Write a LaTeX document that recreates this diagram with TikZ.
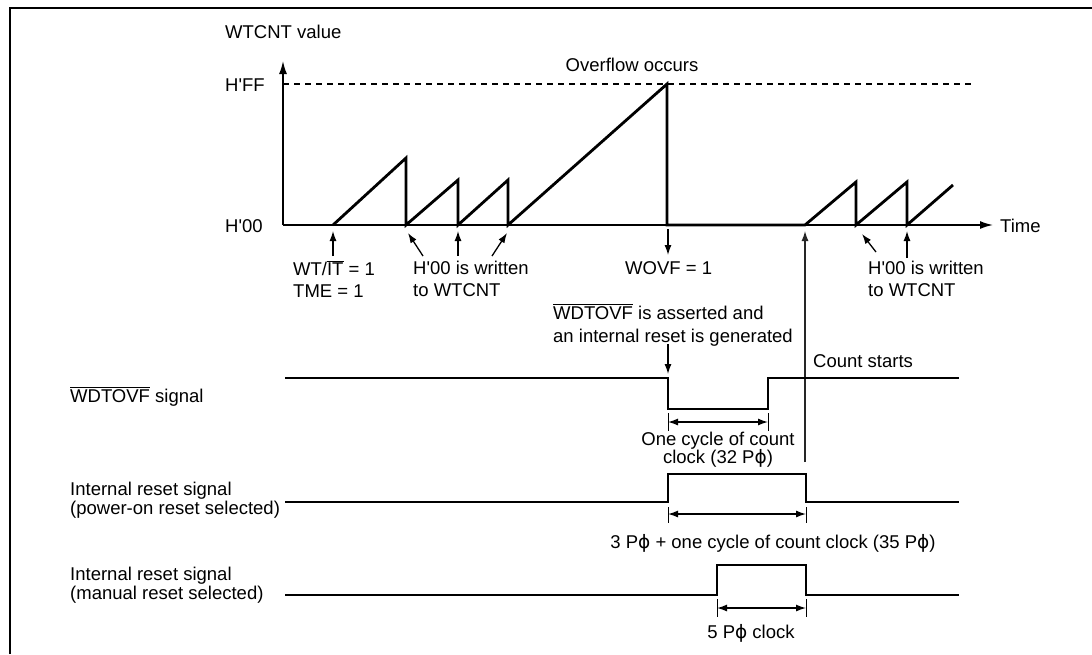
\documentclass[tikz,border=0pt]{standalone}
\usepackage{fontspec}
\setmainfont{Liberation Sans}
\newfontfamily\phifont{DejaVu Sans}
\usetikzlibrary{arrows.meta}
\newcommand{\ph}{{\phifont ϕ}}
\newcommand{\ovl}[1]{$\overline{\mbox{#1}}$}
\newcommand{\apo}{\textquotesingle}
\begin{document}
\begin{tikzpicture}[x=1pt,y=-1pt,
  font=\fontsize{18.5}{22}\selectfont,
  sig/.style={line width=2.8pt, line join=miter},
  axis/.style={line width=1.6pt},
  bigtip/.style={-{Latex[length=13pt,width=8pt]}},
  arr/.style={line width=1.3pt,-{Latex[length=10pt,width=7pt]}},
  dimarr/.style={line width=1.3pt,{Latex[length=10pt,width=7pt]}-{Latex[length=10pt,width=7pt]}},
  tick/.style={line width=1pt},
  lbl/.style={inner sep=0pt, anchor=base west, align=left},
  clbl/.style={inner sep=0pt, anchor=base, align=center},
]
\useasboundingbox (0,0) rectangle (1092,654);
\fill[white] (0,0) rectangle (1092,654);
% frame
\draw[line width=2pt] (10,654) -- (10,8) -- (1092,8);

% axes
\coordinate (O) at (283,225);
\coordinate (Ytop) at (283,61);
\coordinate (Xend) at (993,225);
\draw[axis,bigtip] (O) -- (Ytop);
\draw[axis,bigtip] (O) -- (Xend);
\coordinate (ffL) at (283,84);
\coordinate (ffR) at (972,84);
\draw[line width=1.3pt, dash pattern=on 6pt off 5pt] (ffL) -- (ffR);

\node[lbl] (ylab) at (225,38) {WTCNT value};
\node[lbl] (hff) at (225,91) {H\apo FF};
\node[lbl] (h00) at (225,232) {H\apo 00};
\node[lbl] (time) at (1000,232) {Time};
\node[clbl] (ovf) at (632,71) {Overflow occurs};

% sawtooth
\draw[sig] (333,225) -- (406,158) -- (406,225) -- (458,180) -- (458,225)
  -- (508,180) -- (508,225) -- (667,84) -- (667,225) -- (805,225)
  -- (856,182) -- (856,225) -- (907,182) -- (907,225) -- (953,185);

% arrows below time axis
\coordinate (a1t) at (333,256); \coordinate (a1h) at (333,231);
\coordinate (a2t) at (423,256); \coordinate (a2h) at (408,233);
\coordinate (a3t) at (458,256); \coordinate (a3h) at (458,231);
\coordinate (a4t) at (492,256); \coordinate (a4h) at (507,233);
\coordinate (a5t) at (668,229); \coordinate (a5h) at (668,255);
\coordinate (a6t) at (876,252); \coordinate (a6h) at (862,234);
\coordinate (a7t) at (907,258); \coordinate (a7h) at (907,231);
\draw[arr] (a1t) -- (a1h);
\draw[arr] (a2t) -- (a2h);
\draw[arr] (a3t) -- (a3h);
\draw[arr] (a4t) -- (a4h);
\draw[arr] (a5t) -- (a5h);
\draw[arr] (a6t) -- (a6h);
\draw[arr] (a7t) -- (a7h);

% count starts line
\coordinate (cst) at (805,462); \coordinate (csh) at (805,231);
\draw[arr, black!85] (cst) -- (csh);

% labels near axis (base anchor = last line)
\node[lbl] (wtit) at (293,297) {WT/\ovl{IT} = 1\\TME = 1};
\node[lbl] (w1) at (413,296) {H\apo 00 is written\\to WTCNT};
\node[lbl] (wovf) at (625,274) {WOVF = 1};
\node[lbl] (w2) at (868,296) {H\apo 00 is written\\to WTCNT};
\node[lbl, font=\fontsize{18.5}{23}\selectfont] (assert) at (553,342) {\ovl{WDTOVF} is asserted and\\an internal reset is generated};
\coordinate (asT) at (668,344); \coordinate (asH) at (668,374);
\draw[arr] (asT) -- (asH);
\node[lbl] (cs) at (813,367) {Count starts};

% signal labels
\node[lbl] (s1) at (70,402) {\ovl{WDTOVF} signal};
\node[lbl, font=\fontsize{18.5}{19}\selectfont] (s2) at (70,514) {Internal reset signal\\(power-on reset selected)};
\node[lbl, font=\fontsize{18.5}{19}\selectfont] (s3) at (70,599) {Internal reset signal\\(manual reset selected)};

% signals
\draw[sig] (285,378) -- (668,378) -- (668,409) -- (768,409) -- (768,378) -- (959,378);
\draw[sig] (285,502) -- (668,502) -- (668,474) -- (806,474) -- (806,502) -- (959,502);
\draw[sig] (285,595) -- (717,595) -- (717,565) -- (806,565) -- (806,595) -- (959,595);

% dimension 1
\coordinate (d1a) at (668,422); \coordinate (d1b) at (768,422);
\draw[tick] (668,413) -- (668,431);
\draw[tick] (768,413) -- (768,431);
\draw[dimarr] (d1a) -- (d1b);
\node[clbl, font=\fontsize{18.5}{18}\selectfont] (t1) at (718,463) {One cycle of count\\clock (32 P\ph)};

% dimension 2
\coordinate (d2a) at (668,514); \coordinate (d2b) at (806,514);
\draw[tick] (668,507) -- (668,523);
\draw[tick] (806,507) -- (806,523);
\draw[dimarr] (d2a) -- (d2b);
\node[clbl] (t2) at (773,548) {3 P\ph{} + one cycle of count clock (35 P\ph)};

% dimension 3
\coordinate (d3a) at (717,608); \coordinate (d3b) at (806,608);
\draw[tick] (717,599) -- (717,617);
\draw[tick] (806,599) -- (806,617);
\draw[dimarr] (d3a) -- (d3b);
\node[clbl] (t3) at (751,638) {5 P\ph{} clock};
\end{tikzpicture}
\end{document}
